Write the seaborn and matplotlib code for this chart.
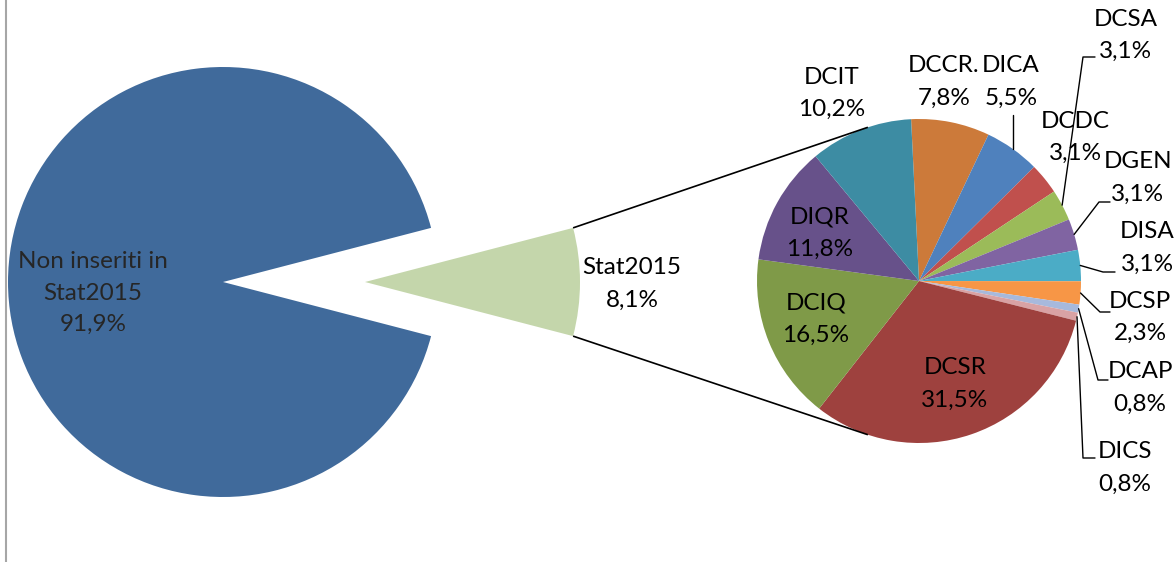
import numpy as np
import matplotlib
matplotlib.use("Agg")
import matplotlib.pyplot as plt
import seaborn as sns

# ---------------- data ----------------
main_labels = ["Non inseriti in\nStat2015", "Stat2015"]
main_values = [91.9, 8.1]

sub_labels = ["DCCR.", "DICA", "DCDC", "DCSA", "DGEN", "DISA", "DCSP",
              "DCAP", "DICS", "DCSR", "DCIQ", "DIQR", "DCIT"]
sub_values = [7.8, 5.5, 3.1, 3.1, 3.1, 3.1, 2.3, 0.8, 0.8, 31.5, 16.5, 11.8, 10.2]

# ---------------- style ----------------
main_colors = ["#406A9B", "#C4D6AB"]
sub_colors = ["#CC7A3A", "#4F81BD", "#C0504D", "#9BBB59", "#8064A2", "#4BACC6",
              "#F79646", "#A7B9DC", "#D9A2A4", "#9E413E", "#7F9A48", "#67518A",
              "#3D8CA3"]

sns.set_theme(style="white")
plt.rcParams['font.family'] = ['Lato', 'DejaVu Sans']

W, H = 1176, 562
FS = 17.5
fig = plt.figure(figsize=(W / 100, H / 100), dpi=100)
ax = fig.add_axes([0, 0, 1, 1])


def Y(py):
    return H - py


def fmt(v):
    return f"{v:.1f}".replace(".", ",") + "%"


# ---------------- main pie ----------------
c1 = (223, Y(282))
r1 = 215
expl = 142
start1 = main_values[1] / sum(main_values) * 360 / 2
w1, _ = ax.pie(main_values, colors=main_colors, center=c1, radius=r1,
               startangle=start1, counterclock=True, explode=[0, expl],
               wedgeprops=dict(linewidth=0), normalize=True)

# ---------------- secondary pie ----------------
c2 = (919, Y(281))
r2 = 162
w2, _ = ax.pie(sub_values, colors=sub_colors, center=c2, radius=r2,
               startangle=92.8, counterclock=False,
               wedgeprops=dict(linewidth=0), normalize=True)

# ---------------- connector lines ----------------
gw = w1[1]
gc = gw.center
conn_ang = 108.4
for sgn in (1, -1):
    a = np.deg2rad(sgn * gw.theta2 if sgn == 1 else gw.theta1)
    p0 = (gc[0] + r1 * np.cos(a), gc[1] + r1 * np.sin(a))
    b = np.deg2rad(sgn * conn_ang)
    p1 = (c2[0] + r2 * np.cos(b), c2[1] + r2 * np.sin(b))
    ax.plot([p0[0], p1[0]], [p0[1], p1[1]], color="black", lw=1.2,
            solid_capstyle="butt")


# ---------------- labels ----------------
def two_line(x, py_top, name, value, gap=32.5):
    ax.text(x, Y(py_top), name, ha="center", va="center", fontsize=FS, color="black")
    ax.text(x, Y(py_top + gap), fmt(value), ha="center", va="center",
            fontsize=FS, color="black")


# main labels
ax.text(93, Y(262), "Non inseriti in", ha="center", va="center", fontsize=FS)
ax.text(93, Y(293), "Stat2015", ha="center", va="center", fontsize=FS)
ax.text(93, Y(324), fmt(main_values[0]), ha="center", va="center", fontsize=FS)
two_line(632, 268, main_labels[1], main_values[1])

label_pos = {
    "DCCR.": (944, 66), "DICA": (1011, 66), "DCDC": (1075, 121),
    "DCSA": (1126, 19), "DGEN": (1138, 162), "DISA": (1147, 232),
    "DCSP": (1140, 301), "DCAP": (1140, 372), "DICS": (1125, 452),
    "DCSR": (955, 368), "DCIQ": (816, 303), "DIQR": (820, 217),
    "DCIT": (832, 77),
}
for name, val in zip(sub_labels, sub_values):
    x, py = label_pos[name]
    two_line(x, py, name, val)

# leader lines: start at slice edge (mid angle), then elbow points (pixels)
leaders = {
    "DICA": [(None, 115)],
    "DCSA": [(1083, 57), (1095, 57)],
    "DGEN": [(1099, 202), (1110, 202)],
    "DISA": [(1103, 272), (1115, 272)],
    "DCSP": [(1100, 312), (1110, 312)],
    "DCAP": [(1098, 380), (1108, 380)],
    "DICS": [(1083, 458), (1095, 458)],
}
for name, w in zip(sub_labels, w2):
    if name not in leaders:
        continue
    mid = np.deg2rad((w.theta1 + w.theta2) / 2)
    x0 = c2[0] + r2 * np.cos(mid)
    y0 = c2[1] + r2 * np.sin(mid)
    xs, ys = [x0], [y0]
    for (px, py) in leaders[name]:
        xs.append(x0 if px is None else px)
        ys.append(Y(py))
    ax.plot(xs, ys, color="black", lw=1.0)

# left border line
ax.plot([5.5, 5.5], [0, H], color="#A6A6A6", lw=1.5)

ax.set_xlim(0, W)
ax.set_ylim(0, H)
ax.set_aspect("equal")
ax.axis("off")
fig.savefig("out.png", dpi=100)
